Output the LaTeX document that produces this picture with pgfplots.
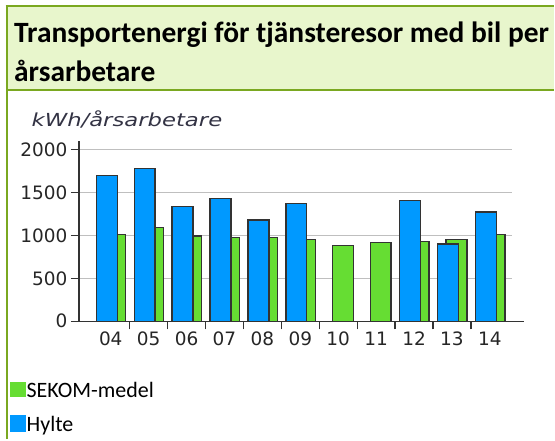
\documentclass[border=0pt]{standalone}
\usepackage{graphicx}
\usepackage{pgfplots}
\pgfplotsset{compat=1.18}
\usepackage{fontspec}
\setmainfont{Carlito}
\newfontfamily\verd{DejaVu Sans}

\definecolor{titlebg}{HTML}{E8F6CC}
\definecolor{frame}{HTML}{7AA820}
\definecolor{hylte}{HTML}{0099FF}
\definecolor{sekom}{HTML}{66DD33}
\definecolor{edge}{HTML}{333333}
\definecolor{gridc}{HTML}{BFBFBF}
\definecolor{labc}{HTML}{333344}

\begin{document}
\begin{tikzpicture}[x=1pt,y=1pt]
% canvas 555 x 440 (y counted from the bottom)
\path[fill=white] (0,0) rectangle (555,440);
\fill[titlebg] (7,350) rectangle (555,434);
\draw[frame,line width=2.5pt] (7,0) -- (7,435);
\draw[frame,line width=2.5pt] (5.75,434) -- (555,434);
\draw[frame,line width=2pt] (7,350) -- (555,350);

\node[anchor=base west,inner sep=0pt,font=\fontsize{29.5}{34}\selectfont\bfseries]
  at (14,397.5) {Transportenergi för tjänsteresor med bil per};
\node[anchor=base west,inner sep=0pt,font=\fontsize{29.5}{34}\selectfont\bfseries]
  at (14,358.5) {årsarbetare};

\node[anchor=base west,inner sep=0pt,text=labc]
  at (31.5,313) {\resizebox{191pt}{\height}{\verd\itshape\fontsize{18}{20}\selectfont kWh/årsarbetare}};

\begin{axis}[
  at={(79pt,118pt)}, anchor=south west,
  scale only axis, width=434pt, height=180.6pt,
  xmin=-0.842, xmax=10.579, ymin=0, ymax=2100,
  axis lines=left,
  axis line style={-, edge, line width=1.5pt},
  x axis line style={shorten >=-12pt},
  tick align=outside,
  tick style={edge, line width=1.3pt},
  major tick length=8pt,
  ytick={0,500,1000,1500,2000},
  yticklabels={0,500,1000,1500,2000},
  xtick={0.5,1.5,2.5,3.5,4.5,5.5,6.5,7.5,8.5,9.5},
  xticklabels={},
  extra x ticks={0,1,2,3,4,5,6,7,8,9,10},
  extra x tick labels={04,05,06,07,08,09,10,11,12,13,14},
  extra x tick style={major tick length=0pt, tick style={draw=none}},
  xticklabel style={yshift=-7pt},
  ymajorgrids,
  grid style={gridc, line width=1.5pt},
  ticklabel style={font=\verd\fontsize{18.5}{20}\selectfont, text=black!85},
]
\addplot[ybar, bar width=21pt, bar shift=4.5pt, fill=sekom, draw=edge, line width=1.3pt]
  coordinates {(0,1015) (1,1089) (2,995) (3,973) (4,973) (5,953) (6,880) (7,922) (8,927) (9,950) (10,1015)};
\addplot[ybar, bar width=21pt, bar shift=-4pt, fill=hylte, draw=edge, line width=1.3pt]
  coordinates {(0,1695) (1,1783) (2,1341) (3,1434) (4,1182) (5,1372) (8,1411) (9,899) (10,1275)};
\end{axis}

\fill[sekom] (10,42) rectangle (26,57);
\node[anchor=base west,inner sep=0pt,font=\fontsize{22}{26}\selectfont] at (26.5,41.7) {SEKOM-medel};
\fill[hylte] (10,7) rectangle (26,24);
\node[anchor=base west,inner sep=0pt,font=\fontsize{22}{26}\selectfont] at (26.5,7.5) {Hylte};
\end{tikzpicture}
\end{document}
